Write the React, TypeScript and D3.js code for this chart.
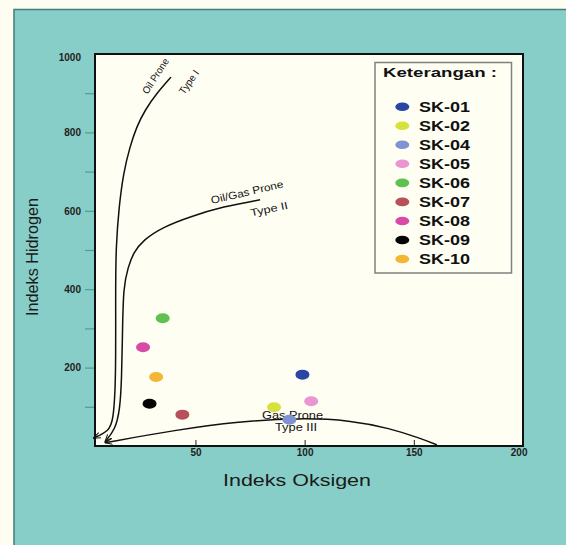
import React, { useEffect, useRef } from 'react';
import * as d3 from 'd3';

// samples plotted on the Van Krevelen (HI vs OI) diagram
const samples = ['SK-01', 'SK-02', 'SK-04', 'SK-05', 'SK-06', 'SK-07', 'SK-08', 'SK-09', 'SK-10'];
const oxygenIndex = [99, 86, 93, 103, 35, 44, 26, 29, 32];
const hydrogenIndex = [182, 99, 67, 114, 326, 80, 252, 108, 176];
const sampleColors = ['#2a46a4', '#d6e13c', '#7f92d2', '#eb95d3', '#5fc14f', '#b6505b', '#d84aa8', '#050505', '#f5b535'];

const xTicks = [50, 100, 150, 200];
const yTicks = [200, 400, 600, 800, 1000];
const yMinorTicks = [100, 300, 500, 700, 900];

// kerogen type boundary curves (OI, HI)
const typeIOI = [38.8, 32.3, 26.9, 23.1, 20.0, 17.0, 15.0, 13.6, 13.4, 13.6, 12.4, 10.4, 3.2];
const typeIHI = [941, 900, 857, 815, 764, 696, 611, 508, 398, 168, 66, 38, 20];
const typeIIOI = [79.6, 62.8, 47.5, 35.3, 26.1, 21.5, 19.2, 17.0, 16.6, 16.2, 15.4, 13.2, 8.6];
const typeIIHI = [628, 611, 585, 559, 526, 492, 457, 406, 296, 168, 92, 41, 11];
const typeIIIOI = [160.6, 152.8, 139.1, 120.8, 98, 70, 40, 8.6];
const typeIIIHI = [3, 20, 45, 66, 71.5, 63, 40, 8.4];

const App = () => {
    const ref = useRef<SVGSVGElement>(null);

    useEffect(() => {
        const svg = d3.select(ref.current);
        svg.selectAll('*').remove();

        const W = 566;
        const H = 545;
        const plot = { left: 95, right: 523, top: 54, bottom: 446 };
        const font = 'Liberation Sans, Arial, Helvetica, sans-serif';

        const x = d3.scaleLinear().domain([4, 200]).range([plot.left, plot.right]);
        const y = d3.scaleLinear().domain([0, 1000]).range([plot.bottom, plot.top]);

        const defs = svg.append('defs');
        defs.append('marker')
            .attr('id', 'arrow')
            .attr('viewBox', '0 0 10 10')
            .attr('refX', 9)
            .attr('refY', 5)
            .attr('markerWidth', 8)
            .attr('markerHeight', 8)
            .attr('markerUnits', 'userSpaceOnUse')
            .attr('orient', 'auto')
            .append('path')
            .attr('d', 'M0,1.5 L9,5 L0,8.5')
            .attr('fill', 'none')
            .attr('stroke', '#111')
            .attr('stroke-width', 1.3);

        // backgrounds
        svg.append('rect').attr('width', W).attr('height', H).attr('fill', '#fffdf1');
        svg.append('rect')
            .attr('x', 14).attr('y', 9.5)
            .attr('width', W).attr('height', H)
            .attr('fill', '#88cec8')
            .attr('stroke', '#3f7f7a')
            .attr('stroke-width', 1.5);
        svg.append('rect')
            .attr('x', plot.left).attr('y', plot.top)
            .attr('width', plot.right - plot.left)
            .attr('height', plot.bottom - plot.top)
            .attr('fill', '#fffef3');

        // y axis
        const yAxis = svg.append('g')
            .attr('transform', `translate(${plot.left},0)`)
            .call(d3.axisLeft(y).tickValues(yTicks).tickFormat(d3.format('d')).tickSize(10).tickPadding(4));
        yAxis.select('.domain').remove();
        yAxis.selectAll('line').attr('stroke', '#46a193').attr('stroke-width', 1.2)
            .filter((d) => d === 1000).remove();
        yAxis.selectAll('text')
            .attr('font-family', font).attr('font-size', 10).attr('font-weight', 'bold')
            .attr('fill', '#222');
        yAxis.selectAll('text').filter((d) => d === 1000).attr('dy', '0.6em');

        const yMinor = svg.append('g')
            .attr('transform', `translate(${plot.left},0)`)
            .call(d3.axisLeft(y).tickValues(yMinorTicks).tickSize(10).tickFormat(() => ''));
        yMinor.select('.domain').remove();
        yMinor.selectAll('line').attr('stroke', '#46a193').attr('stroke-width', 1.2);

        // x axis (ticks point into the plot)
        const xAxis = svg.append('g')
            .attr('transform', `translate(0,${plot.bottom})`)
            .call(d3.axisBottom(x).tickValues(xTicks).tickSizeInner(-6).tickSizeOuter(0).tickPadding(3));
        xAxis.select('.domain').remove();
        xAxis.selectAll('line').attr('stroke', '#222');
        xAxis.selectAll('text')
            .attr('font-family', font).attr('font-size', 10).attr('font-weight', 'bold')
            .attr('fill', '#222');
        xAxis.selectAll('text').filter((d) => d === 200)
            .attr('text-anchor', 'end').attr('dx', 4);

        // plot frame
        svg.append('rect')
            .attr('x', plot.left).attr('y', plot.top)
            .attr('width', plot.right - plot.left)
            .attr('height', plot.bottom - plot.top)
            .attr('fill', 'none')
            .attr('stroke', '#111')
            .attr('stroke-width', 2);

        // kerogen type curves
        const line = d3.line<[number, number]>()
            .x((d) => x(d[0]))
            .y((d) => y(d[1]))
            .curve(d3.curveBasis);

        [d3.zip(typeIOI, typeIHI), d3.zip(typeIIOI, typeIIHI), d3.zip(typeIIIOI, typeIIIHI)]
            .forEach((pts) => {
                svg.append('path')
                    .attr('d', line(pts as [number, number][]))
                    .attr('fill', 'none')
                    .attr('stroke', '#111')
                    .attr('stroke-width', 1.5)
                    .attr('marker-end', 'url(#arrow)');
            });

        const notes = [
            { t: 'Oil Prone', cx: 155.5, cy: 76, rot: -57, len: 40, fs: 10 },
            { t: 'Type I', cx: 189, cy: 82, rot: -55, len: 27, fs: 10 },
            { t: 'Oil/Gas Prone', cx: 247, cy: 192, rot: -13, len: 74, fs: 10.5 },
            { t: 'Type II', cx: 269, cy: 209, rot: -12, len: 38, fs: 10.5 },
            { t: 'Gas Prone', cx: 292.5, cy: 415, rot: 0, len: 61, fs: 10.5 },
            { t: 'Type III', cx: 296, cy: 427, rot: 0, len: 42, fs: 10.5 },
        ];
        svg.append('g')
            .selectAll('text')
            .data(notes)
            .join('text')
            .attr('transform', (d) => `translate(${d.cx},${d.cy}) rotate(${d.rot})`)
            .attr('text-anchor', 'middle')
            .attr('dy', '0.35em')
            .attr('font-family', font)
            .attr('font-size', (d) => d.fs)
            .attr('textLength', (d) => d.len)
            .attr('lengthAdjust', 'spacingAndGlyphs')
            .attr('fill', '#111')
            .text((d) => d.t);

        // sample points
        svg.append('g')
            .selectAll('ellipse')
            .data(samples)
            .join('ellipse')
            .attr('cx', (d, i) => x(oxygenIndex[i]))
            .attr('cy', (d, i) => y(hydrogenIndex[i]))
            .attr('rx', 7)
            .attr('ry', 5)
            .attr('fill', (d, i) => sampleColors[i]);

        // axis titles
        svg.append('text')
            .attr('x', 297).attr('y', 486)
            .attr('text-anchor', 'middle')
            .attr('font-family', font).attr('font-size', 17)
            .attr('textLength', 148).attr('lengthAdjust', 'spacingAndGlyphs')
            .attr('fill', '#1a1a1a')
            .text('Indeks Oksigen');
        svg.append('text')
            .attr('transform', 'translate(37.5,257) rotate(-90)')
            .attr('text-anchor', 'middle')
            .attr('font-family', font).attr('font-size', 16)
            .attr('textLength', 118).attr('lengthAdjust', 'spacingAndGlyphs')
            .attr('fill', '#1a1a1a')
            .text('Indeks Hidrogen');

        // legend
        const legend = svg.append('g');
        legend.append('rect')
            .attr('x', 375).attr('y', 62.5)
            .attr('width', 136.5).attr('height', 210.5)
            .attr('fill', '#fffef3')
            .attr('stroke', '#808080')
            .attr('stroke-width', 1.5);
        legend.append('text')
            .attr('x', 383).attr('y', 77)
            .attr('font-family', font).attr('font-size', 13).attr('font-weight', 'bold')
            .attr('textLength', 114).attr('lengthAdjust', 'spacingAndGlyphs')
            .attr('fill', '#111')
            .text('Keterangan :');
        const items = legend.selectAll('g.item')
            .data(samples)
            .join('g')
            .attr('class', 'item')
            .attr('transform', (d, i) => `translate(0,${106.7 + i * 19.04})`);
        items.append('ellipse')
            .attr('cx', 402.3).attr('rx', 7).attr('ry', 4.3)
            .attr('fill', (d, i) => sampleColors[i]);
        items.append('text')
            .attr('x', 419).attr('dy', '0.36em')
            .attr('font-family', font).attr('font-size', 14).attr('font-weight', 'bold')
            .attr('textLength', 51).attr('lengthAdjust', 'spacingAndGlyphs')
            .attr('fill', '#111')
            .text((d) => d);
    }, []);

    return (
        <svg
            ref={ref}
            width={566}
            height={545}
            style={{ position: 'fixed', left: 0, top: 0, display: 'block' }}
        />
    );
};

export default App;
